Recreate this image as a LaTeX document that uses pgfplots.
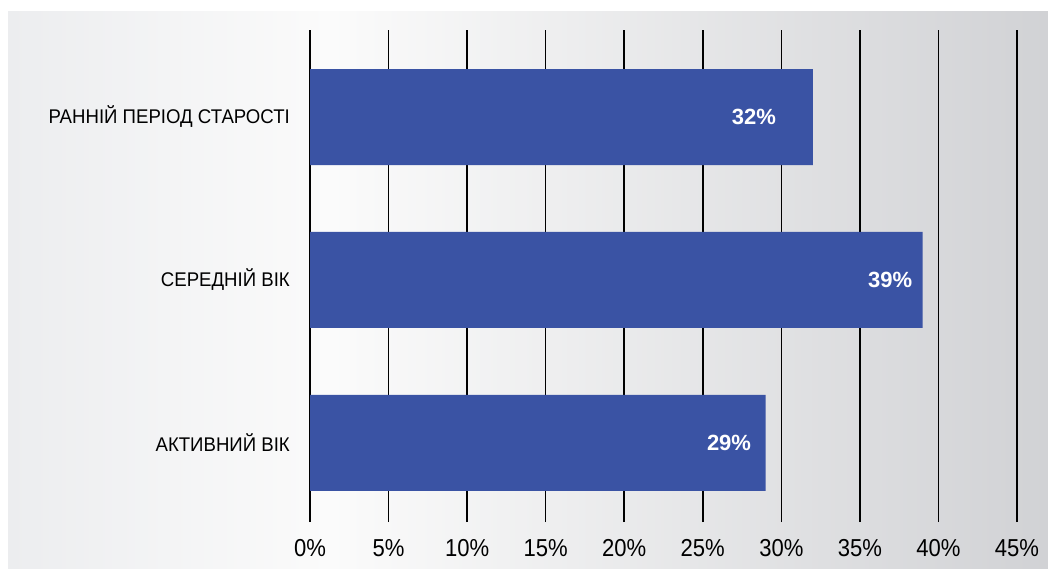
\documentclass[border=0pt]{standalone}
\usepackage{pgfplots}
\pgfplotsset{compat=1.18}
\usepackage{fontspec}
\setmainfont{Liberation Sans}
\newfontfamily\tickfont[FakeStretch=0.9]{Liberation Sans}
\newfontfamily\labfont[FakeStretch=0.94]{Liberation Sans}
\definecolor{barblue}{RGB}{58,83,164}
\definecolor{bgL}{RGB}{236,237,239}
\definecolor{bgM}{RGB}{251,251,251}
\definecolor{bgR}{RGB}{209,210,213}
\pgfdeclarehorizontalshading{bgshade}{100bp}{color(0bp)=(bgL); color(25bp)=(bgL); color(40.5bp)=(bgM); color(75bp)=(bgR); color(100bp)=(bgR)}
\begin{document}
\begin{tikzpicture}
\useasboundingbox (0,0) rectangle (1048pt,568pt);
\fill[white] (0,0) rectangle (1048pt,568pt);
\shade[shading=bgshade] (8pt,0pt) rectangle (1048pt,556pt);
\begin{axis}[
  at={(310pt,46pt)}, anchor=south west,
  scale only axis, width=707pt, height=492pt,
  xmin=0, xmax=45, ymin=-0.485, ymax=2.534,
  axis line style={draw=none},
  major tick length=0pt,
  xtick={0,5,...,45},
  xticklabels={0\%,5\%,10\%,15\%,20\%,25\%,30\%,35\%,40\%,45\%},
  xticklabel style={font=\tickfont\fontsize{24.5}{26}\selectfont, anchor=base, yshift=-34pt, inner sep=0pt},
  ytick={0,1,2},
  yticklabels={АКТИВНИЙ ВІК,СЕРЕДНІЙ ВІК,РАННІЙ ПЕРІОД СТАРОСТІ},
  yticklabel style={font=\labfont\fontsize{19.8}{21}\selectfont, anchor=east, xshift=-20pt, inner sep=0pt},
  xmajorgrids,
  grid style={black, line width=1.6pt},
  clip=false,
]
\addplot[xbar, bar width=96pt, bar shift=0pt, fill=barblue, draw=none]
  coordinates {(29,0) (39,1) (32,2)};
\addplot[only marks, mark=none, point meta=explicit symbolic,
  nodes near coords,
  nodes near coords style={anchor=center, text=white, font=\bfseries\fontsize{22}{24}\selectfont}]
  coordinates {(26.67,0)[29\%] (36.92,1)[39\%] (28.26,2)[32\%]};
\end{axis}
\end{tikzpicture}
\end{document}
